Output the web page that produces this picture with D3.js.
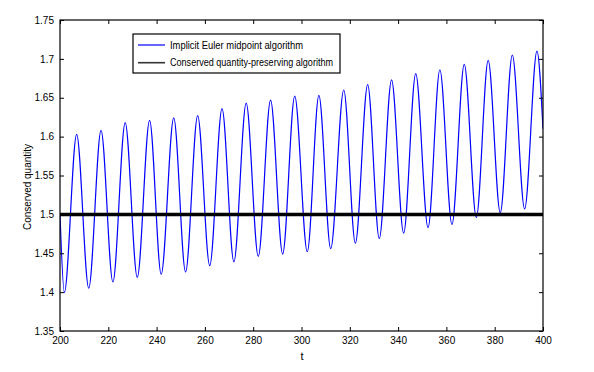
<!DOCTYPE html>
<html>
<head>
<meta charset="utf-8">
<script src="https://cdn.jsdelivr.net/npm/d3@7"></script>
<style>
  body { margin: 0; background: #fff; }
  svg text { font-family: "Liberation Sans", Arial, sans-serif; }
</style>
</head>
<body>
<svg id="chart" width="594" height="372"></svg>
<script>
// values
const peakT   = [206.9, 217.0, 227.0, 237.1, 247.1, 257.0, 267.1, 277.1, 287.2, 297.2,
                 307.2, 317.5, 327.4, 337.3, 347.3, 357.3, 367.4, 377.3, 387.3, 397.5];
const peakV   = [1.603, 1.608, 1.618, 1.621, 1.624, 1.627, 1.636, 1.643, 1.647, 1.652,
                 1.653, 1.660, 1.667, 1.673, 1.681, 1.686, 1.693, 1.698, 1.705, 1.710];
const troughT = [201.8, 211.9, 221.9, 232.0, 241.9, 252.0, 262.0, 272.0, 282.1, 292.2,
                 302.4, 312.1, 322.3, 332.2, 342.3, 352.4, 362.3, 372.4, 382.3, 392.4];
const troughV = [1.3995, 1.405, 1.413, 1.419, 1.423, 1.426, 1.434, 1.439, 1.446, 1.449,
                 1.452, 1.456, 1.463, 1.469, 1.476, 1.483, 1.487, 1.496, 1.502, 1.507];
const endsT   = [200, 400];
const endsV   = [1.50, 1.61];
const conserved = 1.5;

const xTicks = [200, 220, 240, 260, 280, 300, 320, 340, 360, 380, 400];
const yTicks = [1.35, 1.4, 1.45, 1.5, 1.55, 1.6, 1.65, 1.7, 1.75];
const legendLabels = ["Implicit Euler midpoint algorithm", "Conserved quantity-preserving algorithm"];

const main = function() {
  drawChart();
}();

function buildSeries() {
  const pts = [];
  peakT.forEach((t, i) => pts.push({t: t, v: peakV[i]}));
  troughT.forEach((t, i) => pts.push({t: t, v: troughV[i]}));
  endsT.forEach((t, i) => pts.push({t: t, v: endsV[i]}));
  return pts.sort((a, b) => a.t - b.t);
}

function drawChart() {
  const m = {left: 60, right: 51, top: 20, bottom: 41};
  const W = 594, H = 372;
  const svg = d3.select("#chart");

  const x = d3.scaleLinear().domain([200, 400]).range([m.left, W - m.right]);
  const y = d3.scaleLinear().domain([1.35, 1.75]).range([H - m.bottom, m.top]);

  svg.append("clipPath").attr("id", "clip")
    .append("rect")
      .attr("x", x(200)).attr("y", y(1.75))
      .attr("width", x(400) - x(200)).attr("height", y(1.35) - y(1.75));

  // blue oscillating series
  const line = d3.line()
    .x(d => x(d.t))
    .y(d => y(d.v))
    .curve(d3.curveMonotoneX);

  svg.append("path")
    .datum(buildSeries())
    .attr("clip-path", "url(#clip)")
    .attr("fill", "none")
    .attr("stroke", "#0000ff")
    .attr("stroke-width", 1.2)
    .attr("d", line);

  // thick conserved line
  svg.append("line")
    .attr("x1", x(200)).attr("x2", x(400))
    .attr("y1", y(conserved)).attr("y2", y(conserved))
    .attr("stroke", "#000")
    .attr("stroke-width", 3.5);

  // axes, ticks inside on all four sides
  const fmtY = d => d3.format(".2~f")(d);
  const axes = [
    {g: d3.axisBottom(x).tickValues(xTicks).tickFormat(d3.format("d")), tr: `translate(0,${y(1.35)})`, lab: true},
    {g: d3.axisTop(x).tickValues(xTicks), tr: `translate(0,${y(1.75)})`, lab: false},
    {g: d3.axisLeft(y).tickValues(yTicks).tickFormat(fmtY), tr: `translate(${x(200)},0)`, lab: true},
    {g: d3.axisRight(y).tickValues(yTicks), tr: `translate(${x(400)},0)`, lab: false}
  ];
  axes.forEach(a => {
    const g = svg.append("g")
      .attr("transform", a.tr)
      .call(a.g.tickSizeInner(-4).tickSizeOuter(0).tickPadding(a.lab ? 6 : 0));
    g.select(".domain").remove();
    g.selectAll(".tick line").attr("stroke", "#000");
    g.selectAll("text")
      .attr("font-size", 10)
      .attr("fill", "#000")
      .style("display", a.lab ? null : "none");
  });

  // box
  svg.append("rect")
    .attr("x", x(200)).attr("y", y(1.75))
    .attr("width", x(400) - x(200)).attr("height", y(1.35) - y(1.75))
    .attr("fill", "none")
    .attr("stroke", "#000")
    .attr("stroke-width", 1.2);

  // axis labels
  svg.append("text")
    .attr("x", (x(200) + x(400)) / 2 + 0.5)
    .attr("y", 360)
    .attr("text-anchor", "middle")
    .attr("font-size", 11)
    .text("t");

  svg.append("text")
    .attr("transform", "translate(31,187) rotate(-90)")
    .attr("text-anchor", "middle")
    .attr("font-size", 10)
    .text("Conserved quantity");

  // legend
  const leg = svg.append("g");
  leg.append("rect")
    .attr("x", 133).attr("y", 34)
    .attr("width", 207).attr("height", 39)
    .attr("fill", "#fff")
    .attr("stroke", "#000")
    .attr("stroke-width", 1.2);

  const rows = leg.selectAll("g.row")
    .data(legendLabels)
    .join("g")
      .attr("class", "row")
      .attr("transform", (d, i) => `translate(0,${45 + i * 17.7})`);

  rows.append("line")
    .attr("x1", 138).attr("x2", 165)
    .attr("stroke", (d, i) => i === 0 ? "#0000ff" : "#333")
    .attr("stroke-width", (d, i) => i === 0 ? 1.2 : 1.6);

  rows.append("text")
    .attr("x", 170)
    .attr("dy", "0.35em")
    .attr("font-size", 10)
    .attr("textLength", (d, i) => i === 0 ? 133 : 163)
    .attr("lengthAdjust", "spacingAndGlyphs")
    .text(d => d);
}
</script>
</body>
</html>
